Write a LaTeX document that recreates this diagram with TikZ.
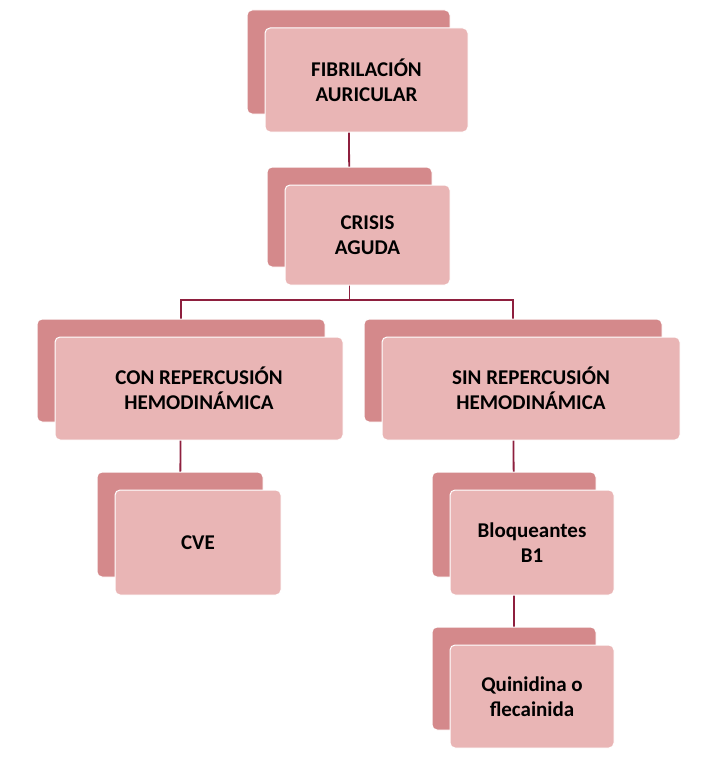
\documentclass[tikz,border=0pt]{standalone}
\usepackage{fontspec}
\setmainfont{Carlito}
\usetikzlibrary{positioning,backgrounds}
\definecolor{backred}{HTML}{D4898B}
\definecolor{frontred}{HTML}{E9B5B5}
\definecolor{linkred}{HTML}{8E1F3E}
\tikzstyle{backbox} = [rectangle,rounded corners=5pt,fill=backred,draw=white,line width=1pt]
\tikzstyle{frontbox} = [rectangle,rounded corners=5pt,fill=frontred,draw=white,line width=1pt,align=center,font=\fontsize{21}{25}\selectfont\bfseries]
\tikzstyle{link} = [draw=linkred,line width=1.8pt]

\begin{document}
\begin{tikzpicture}[x=1pt,y=-1pt]
\useasboundingbox (0,0) rectangle (703,760);

% back boxes, then front boxes
\foreach \nm/\x/\y/\w/\h/\txt in {fib/366.5/80/203/104/{FIBRILACIÓN\\AURICULAR},
  crisis/367.5/235/165/100/{CRISIS\\AGUDA},
  con/199/388.5/288/103/{CON REPERCUSIÓN\\HEMODINÁMICA},
  sin/531/388.5/298/103/{SIN REPERCUSIÓN\\HEMODINÁMICA},
  cve/198/542.5/166/105/{CVE},
  bloq/532/542.5/164/105/{Bloqueantes\\B1},
  quin/532/696.5/164/103/{Quinidina o\\flecainida}}
{
  \node (\nm b) [backbox,minimum width=\w pt,minimum height=\h pt] at (\x-18,\y-18) {};
  \node (\nm) [frontbox,minimum width=\w pt,minimum height=\h pt] at (\x,\y) {\txt};
}

\begin{pgfonlayer}{background}
\draw[link] (fibb.center) -- (crisisb.center);
\draw[link] (crisisb.center) -- (crisisb.center |- 0,300) -| (conb.center);
\draw[link] (crisisb.center |- 0,300) -| (sinb.center);
\draw[link] (conb.center) -- (cveb.center);
\draw[link] (sinb.center) -- (bloqb.center);
\draw[link] (bloqb.center) -- (quinb.center);
\end{pgfonlayer}

\end{tikzpicture}
\end{document}
